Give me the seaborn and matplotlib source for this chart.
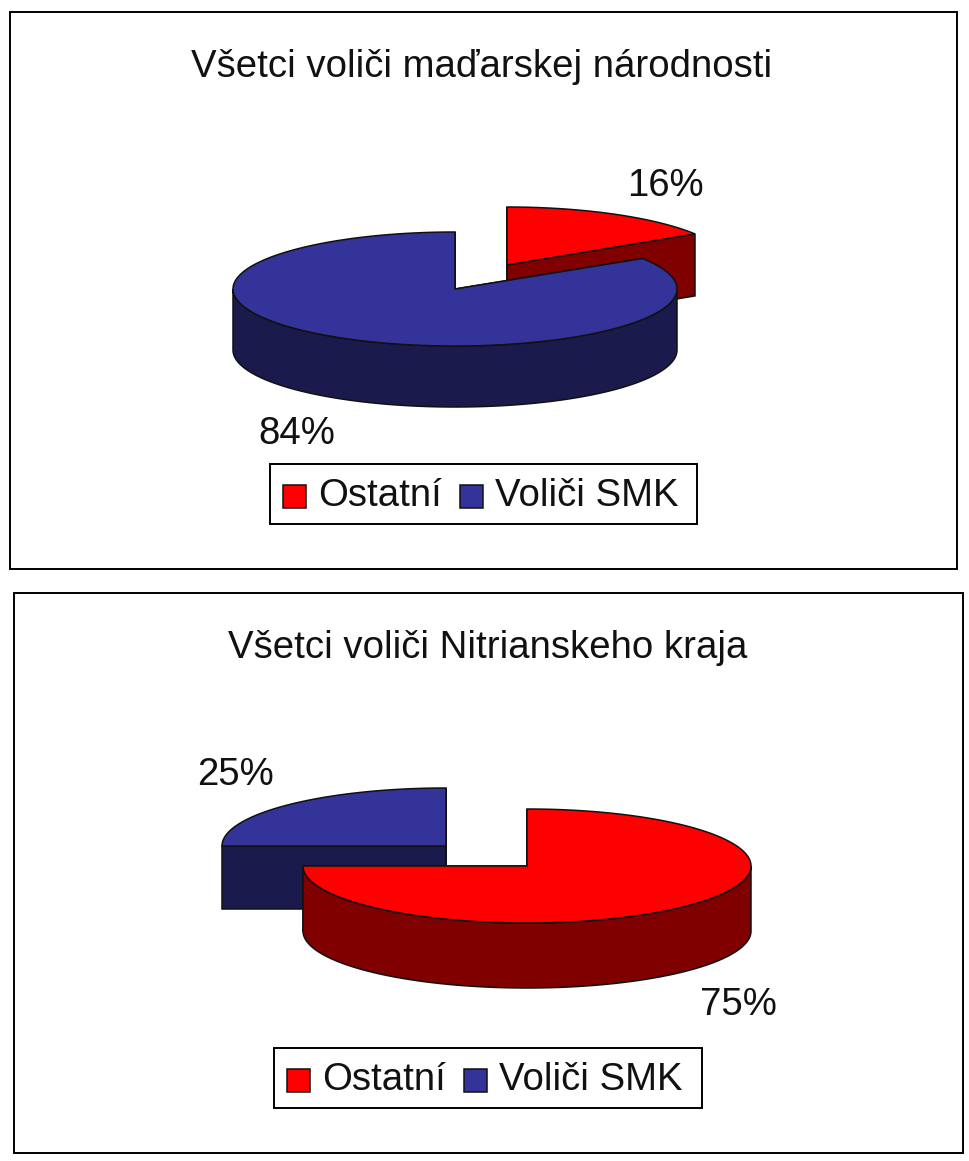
import numpy as np
import matplotlib
matplotlib.use("Agg")
import matplotlib.pyplot as plt
from matplotlib.patches import Polygon, Rectangle
import seaborn as sns

sns.set_theme(style="white")
plt.rcParams['font.family'] = ['Liberation Sans', 'DejaVu Sans']

categories = ["Ostatní", "Voliči SMK"]
titles = ["Všetci voliči maďarskej národnosti", "Všetci voliči Nitrianskeho kraja"]
values_hungarian = [16, 84]
values_nitra = [75, 25]

top_colors = sns.color_palette(["#FF0000", "#333399"])
side_colors = sns.color_palette(["#800000", "#1A1A4D"])
INK = "#111111"
FS = 27.6


def pt(cx, cy, rx, ry, deg, dz=0.0):
    a = np.radians(deg)
    return np.column_stack([cx + rx * np.sin(a), cy - ry * np.cos(a) + dz])


def wedge3d(ax, cx, cy, rx, ry, depth, start, stop, top, side, z):
    apex = np.array([[cx, cy]])
    for deg in (start, stop):
        e = pt(cx, cy, rx, ry, np.array([deg]))
        face = np.vstack([apex, e, e + [0, depth], apex + [0, depth]])
        ax.add_patch(Polygon(face, fc=side, ec=INK, lw=1.1, zorder=z))
    lo, hi = max(start, 90), min(stop, 270)
    if hi > lo:
        th = np.linspace(lo, hi, 160)
        wall = np.vstack([pt(cx, cy, rx, ry, th), pt(cx, cy, rx, ry, th[::-1], depth)])
        ax.add_patch(Polygon(wall, fc=side, ec=INK, lw=1.1, zorder=z + 0.1))
    th = np.linspace(start, stop, 300)
    ax.add_patch(Polygon(np.vstack([apex, pt(cx, cy, rx, ry, th)]), fc=top, ec=INK, lw=1.1, zorder=z + 0.2))


def panel(ax, box, title, title_xy, values, geom, labels, legend_box):
    x0, y0, x1, y1 = box
    ax.add_patch(Rectangle((x0, y0), x1 - x0, y1 - y0, fc="white", ec="black", lw=1.4, zorder=0))
    ax.text(*title_xy, title, fontsize=FS, ha="center", va="center", color="#111111", zorder=5)
    total = sum(values)
    start = 0.0
    for i, v in enumerate(values):
        stop = start + 360.0 * v / total
        g = geom[i]
        wedge3d(ax, g[0], g[1], g[2], g[3], g[4], start, stop, top_colors[i], side_colors[i], g[5])
        ax.text(labels[i][0], labels[i][1], f"{v}%", fontsize=FS, ha="center", va="center", color="#111111", zorder=6)
        start = stop
    lx0, ly0, lx1, ly1 = legend_box
    ax.add_patch(Rectangle((lx0, ly0), lx1 - lx0, ly1 - ly0, fc="white", ec="black", lw=1.4, zorder=6))
    sq = 23
    xs = [lx0 + 13, lx0 + 190]
    for i, name in enumerate(categories):
        ym = (ly0 + ly1) / 2 + 2.5
        ax.add_patch(Rectangle((xs[i], ym - sq / 2), sq, sq, fc=top_colors[i], ec=INK, lw=1.1, zorder=7))
        ax.text(xs[i] + sq + 12, ym - 1, name, fontsize=FS, ha="left", va="center", color="#111111", zorder=7)


fig = plt.figure(figsize=(9.69, 11.61), dpi=100, facecolor="white")
ax = fig.add_axes([0, 0, 1, 1])
ax.set_xlim(0, 969)
ax.set_ylim(1161, 0)
ax.axis("off")

panel(ax, (10, 12, 957, 569), titles[0], (482, 67), values_hungarian,
      [(507, 265, 188 / np.sin(np.radians(57.6)), 58, 62, 1), (455, 289, 222, 57, 61, 2)],
      [(665, 186), (297, 434)], (270, 464, 697, 524))
panel(ax, (14, 593, 963, 1153), titles[1], (488, 648), values_nitra,
      [(527, 866, 224, 57, 65, 2), (446, 846, 224, 58, 63, 1)],
      [(738, 1005), (236, 775)], (274, 1048, 702, 1108))

fig.savefig("out.png", dpi=100, facecolor="white")
